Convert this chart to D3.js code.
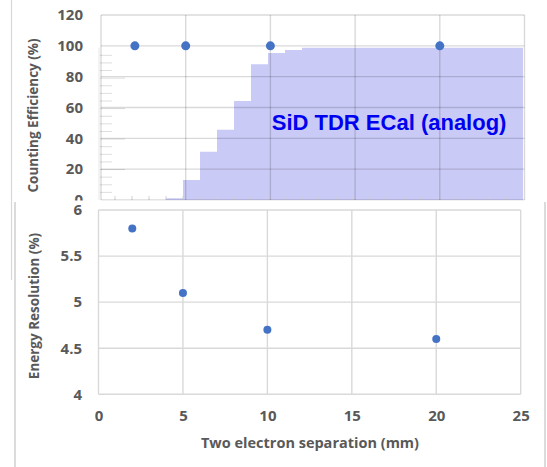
<!DOCTYPE html>
<html><head><meta charset="utf-8">
<script src="https://cdn.jsdelivr.net/npm/d3@7"></script>
<style>body{margin:0;background:#fff}svg{display:block}</style>
</head><body>
<svg id="c" width="547" height="467"></svg>
<script>
// ---- data ----
const separations = [2, 5, 10, 20];           // mm
const countingEfficiency = [100, 100, 100, 100]; // %
const energyResolution = [5.8, 5.1, 4.7, 4.6];   // %
const histBinStart = [0,1,2,3,4,5,6,7,8,9,10,11,12,13,14,15,16,17,18,19,20,21,22,23,24];
const histValue    = [0,0,0,0,1.2,13.1,31.7,46.2,65,89.2,96.6,98.5,100,100,100,100,100,100,100,100,100,100,100,100,100];
const xTicks = [0,5,10,15,20,25];
const effTicks = [0,20,40,60,80,100,120];
const resTicks = [4,4.5,5,5.5,6];
const histLabel = "SiD TDR ECal (analog)";
const xTitle = "Two electron separation (mm)";
const effTitle = "Counting Efficiency (%)";
const resTitle = "Energy Resolution (%)";

const svg = d3.select("#c");
const font = "'Open Sans', Lato, sans-serif";
const gridCol = "#d9d9d9", textCol = "#595959", dotCol = "#4472c4";

// ---- top chart (counting efficiency) ----
const xT = d3.scaleLinear().domain([0,25]).range([101,524.5]);
const yT = d3.scaleLinear().domain([0,120]).range([200,15]);
svg.append("line").attr("x1",11.5).attr("x2",11.5).attr("y1",0).attr("y2",280)
  .attr("stroke","#d8d8d8").attr("stroke-width",1.2);

// histogram overlay (own scales)
const xH = d3.scaleLinear().domain([0,25]).range([98,523]);
const yH = d3.scaleLinear().domain([0,100]).range([200,47.7]);
const area = d3.area().curve(d3.curveStepAfter)
  .x(d=>xH(d[0])).y0(yH(0)).y1(d=>yH(d[1]));
const histPts = histBinStart.map((b,i)=>[b,histValue[i]]);
histPts.push([25, histValue[histValue.length-1]]);
svg.append("path").datum(histPts).attr("d",area).attr("fill","#cacaf7");
const hy = svg.append("g");
d3.range(5,100,5).forEach(v=>{
  hy.append("line").attr("x1",xH(0)+2).attr("x2",xH(0)+(v%20===0?27:14))
    .attr("y1",yH(v)).attr("y2",yH(v)).attr("stroke","#dedede").attr("stroke-width",1);
});
hy.append("line").attr("x1",xH(0)+1).attr("x2",xH(0)+1).attr("y1",yH(0)).attr("y2",yH(100))
  .attr("stroke","#e6e6e6");
d3.range(1,25,1).forEach(v=>{
  hy.append("line").attr("x1",xH(v)).attr("x2",xH(v)).attr("y1",yH(0)-4).attr("y2",yH(0))
    .attr("stroke","#d0d0d0").attr("stroke-width",1);
});

const gT = svg.append("g");
effTicks.forEach(v=>gT.append("line").attr("x1",xT(0)).attr("x2",xT(25))
  .attr("y1",yT(v)).attr("y2",yT(v)).attr("stroke","rgba(0,0,0,0.15)").attr("stroke-width",1.4));
xTicks.forEach(v=>gT.append("line").attr("x1",xT(v)).attr("x2",xT(v))
  .attr("y1",yT(0)).attr("y2",yT(120)).attr("stroke","rgba(0,0,0,0.15)").attr("stroke-width",1.4));

svg.append("text").attr("x",xT(10.08)).attr("y",yT(45.3)).text(histLabel)
  .attr("font-family","'Liberation Sans', Arial, sans-serif").attr("font-weight","bold")
  .attr("font-size",22).attr("fill","#0000f0");

svg.append("g").selectAll("circle").data(separations).join("circle")
  .attr("cx",(d)=>xT(d)).attr("cy",(d,i)=>yT(countingEfficiency[i])).attr("r",4.5).attr("fill",dotCol);

const yAxT = d3.axisLeft(yT).tickValues(effTicks).tickSize(0).tickPadding(0);
svg.append("g").attr("transform","translate(83,0)").call(yAxT)
  .call(g=>g.select(".domain").remove())
  .selectAll("text").attr("font-family",font).attr("font-weight","bold")
  .attr("font-size",15).attr("fill",textCol);
svg.append("text").attr("transform",`translate(38,${115.5}) rotate(-90)`)
  .attr("text-anchor","middle").text(effTitle)
  .attr("font-family",font).attr("font-weight","bold").attr("font-size",13.5).attr("fill",textCol);

// ---- bottom chart (energy resolution) ----
svg.append("rect").attr("x",15).attr("y",200.5).attr("width",530).attr("height",270).attr("fill","#fff");
svg.append("line").attr("x1",15).attr("x2",15).attr("y1",202).attr("y2",467).attr("stroke","#cfcfcf").attr("stroke-width",1.5);
svg.append("line").attr("x1",545).attr("x2",545).attr("y1",202).attr("y2",467).attr("stroke","#cfcfcf").attr("stroke-width",1.5);

const xB = d3.scaleLinear().domain([0,25]).range([98.5,520.7]);
const yB = d3.scaleLinear().domain([4,6]).range([394.3,210]);
const gB = svg.append("g");
resTicks.forEach(v=>gB.append("line").attr("x1",xB(0)).attr("x2",xB(25))
  .attr("y1",yB(v)).attr("y2",yB(v)).attr("stroke",gridCol).attr("stroke-width",1.4));
xTicks.forEach(v=>gB.append("line").attr("x1",xB(v)).attr("x2",xB(v))
  .attr("y1",yB(4)).attr("y2",yB(6)).attr("stroke",gridCol).attr("stroke-width",1.4));

svg.append("g").selectAll("circle").data(separations).join("circle")
  .attr("cx",(d)=>xB(d)).attr("cy",(d,i)=>yB(energyResolution[i])).attr("r",4).attr("fill",dotCol);

const yAxB = d3.axisLeft(yB).tickValues(resTicks).tickSize(0).tickPadding(0).tickFormat(d3.format("~g"));
svg.append("g").attr("transform","translate(82,0)").call(yAxB)
  .call(g=>g.select(".domain").remove())
  .selectAll("text").attr("font-family",font).attr("font-weight","bold")
  .attr("font-size",15).attr("fill",textCol);
const xAxB = d3.axisBottom(xB).tickValues(xTicks).tickSize(0).tickPadding(0);
svg.append("g").attr("transform","translate(0,410)").call(xAxB)
  .call(g=>g.select(".domain").remove())
  .selectAll("text").attr("font-family",font).attr("font-weight","bold")
  .attr("font-size",15).attr("fill",textCol);
svg.append("text").attr("transform",`translate(38.5,${306}) rotate(-90)`)
  .attr("text-anchor","middle").text(resTitle)
  .attr("font-family",font).attr("font-weight","bold").attr("font-size",13.5).attr("fill",textCol);
svg.append("text").attr("x",310).attr("y",448).attr("text-anchor","middle").text(xTitle)
  .attr("font-family",font).attr("font-weight","bold").attr("font-size",14.5).attr("fill",textCol);
</script>
</body></html>
